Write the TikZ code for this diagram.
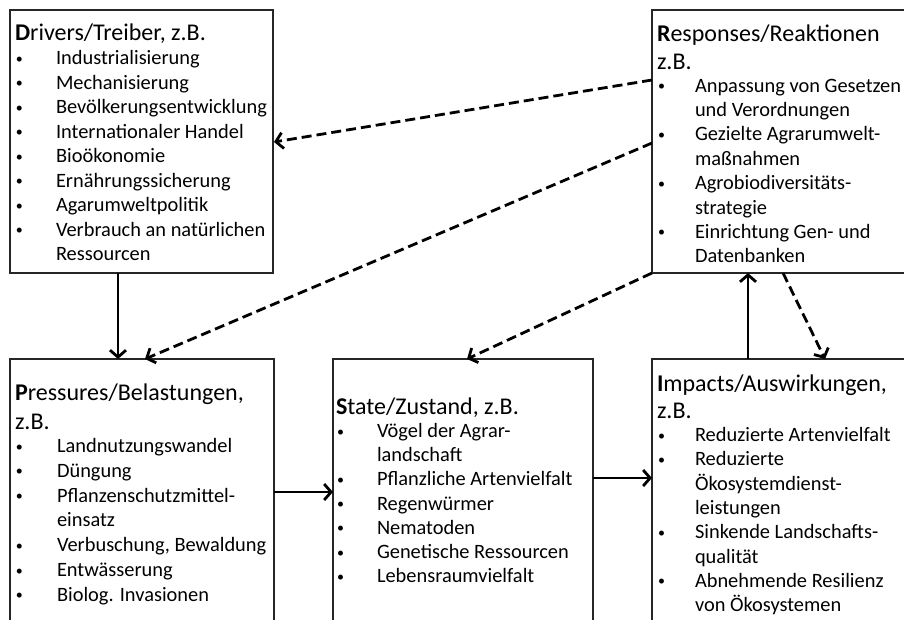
\documentclass[tikz,border=0pt]{standalone}
\usepackage{fontspec}
\setmainfont{Carlito}
\usetikzlibrary{arrows.meta,calc}
\tikzset{
  boxnode/.style={draw=black!85, line width=1.3pt, rectangle, inner sep=0pt, outer sep=0pt, anchor=north west},
  txt/.style={anchor=base west, inner sep=0pt, outer sep=0pt},
  conn/.style={line width=2.8pt, -{Straight Barb[length=7pt,width=16pt]}},
  dconn/.style={conn, dash pattern=on 10pt off 5pt},
}
\newlength\bw
\newcommand\bul{\hspace*{1pt}{\fontsize{14}{14}\selectfont\raisebox{1.5pt}{\textbullet}}}
\newcommand\bi[1]{\hbox{\makebox[\bw][l]{\bul}#1}}
\newcommand\bc[1]{\hbox{\hspace*{\bw}#1}}
\newcommand\ttl[1]{\hbox{\fontsize{24}{29}\selectfont #1}}
\newcommand\blk[3]{\fontsize{20.4}{#2}\selectfont\setlength\bw{#1}\vtop{#3}}
\begin{document}
\begin{tikzpicture}[x=1pt,y=-1pt]
\useasboundingbox (0,0) rectangle (904,619);
\clip (0,0) rectangle (904,619);
% boxes
\node[boxnode, minimum width=263pt, minimum height=263pt] (drv) at (10,10) {};
\node[boxnode, minimum width=280pt, minimum height=263pt] (rsp) at (652,10) {};
\node[boxnode, minimum width=264pt, minimum height=280pt] (prs) at (10,359) {};
\node[boxnode, minimum width=260pt, minimum height=280pt] (sta) at (333,359) {};
\node[boxnode, minimum width=280pt, minimum height=280pt] (imp) at (652,359) {};
% texts
\node[txt] (drvt) at (15,40) {\blk{41pt}{24.5pt}{%
\ttl{\textbf{D}rivers/Treiber, z.B.}
\bi{Industrialisierung}
\bi{Mechanisierung}
\bi{Bevölkerungsentwicklung}
\bi{Internationaler Handel}
\bi{Bioökonomie}
\bi{Ernährungssicherung}
\bi{Agarumweltpolitik}
\bi{Verbrauch an natürlichen}
\bc{Ressourcen}}};
\node[txt] (rspt) at (657,41) {\blk{38pt}{24.4pt}{%
\ttl{\textbf{R}esponses/Reaktionen}\vskip3.6pt
\ttl{z.B.}\vskip-1.4pt
\bi{Anpassung von Gesetzen}
\bc{und Verordnungen}
\bi{Gezielte Agrarumwelt-}
\bc{maßnahmen}
\bi{Agrobiodiversitäts-}
\bc{strategie}
\bi{Einrichtung Gen- und}
\bc{Datenbanken}}};
\node[txt] (prst) at (15,400) {\blk{42pt}{24.8pt}{%
\ttl{\textbf{P}ressures/Belastungen,}\vskip4.2pt
\ttl{z.B.}\vskip-1.3pt
\bi{Landnutzungswandel}
\bi{Düngung}
\bi{Pflanzenschutzmittel-}
\bc{einsatz}
\bi{Verbuschung, Bewaldung}
\bi{Entwässerung}
\bi{Biolog. Invasionen}}};
\node[txt] (stat) at (336,414) {\blk{41pt}{24.2pt}{%
\ttl{\textbf{S}tate/Zustand, z.B.}\vskip-0.7pt
\bi{Vögel der Agrar-}
\bc{landschaft}
\bi{Pflanzliche Artenvielfalt}
\bi{Regenwürmer}
\bi{Nematoden}
\bi{Genetische Ressourcen}
\bi{Lebensraumvielfalt}}};
\node[txt] (impt) at (657,391) {\blk{38pt}{24.3pt}{%
\ttl{\textbf{I}mpacts/Auswirkungen,}\vskip2.7pt
\ttl{z.B.}\vskip-0.8pt
\bi{Reduzierte Artenvielfalt}
\bi{Reduzierte}
\bc{Ökosystemdienst-}
\bc{leistungen}
\bi{Sinkende Landschafts-}
\bc{qualität}
\bi{Abnehmende Resilienz}
\bc{von Ökosystemen}}};
% connectors
\draw[conn] ($(drv.south west)+(108,0)$) -- ($(prs.north west)+(108,0)$);
\draw[dconn] ($(rsp.north west)+(0,70)$) -- ($(drv.north east)+(1,132)$);
\draw[dconn] ($(rsp.north west)+(0,133)$) -- ($(prs.north west)+(135,0)$);
\draw[dconn] (rsp.south west) -- ($(sta.north west)+(134,0)$);
\draw[conn] ($(prs.north east)+(0,133)$) -- ($(sta.north west)+(0,133)$);
\draw[conn] ($(sta.north east)+(0,119)$) -- ($(imp.north west)+(0,119)$);
\draw[conn] ($(imp.north west)+(96,0)$) -- ($(rsp.south west)+(96,0)$);
\draw[dconn] ($(rsp.south west)+(131,0)$) -- ($(imp.north west)+(173,0)$);
\end{tikzpicture}
\end{document}
